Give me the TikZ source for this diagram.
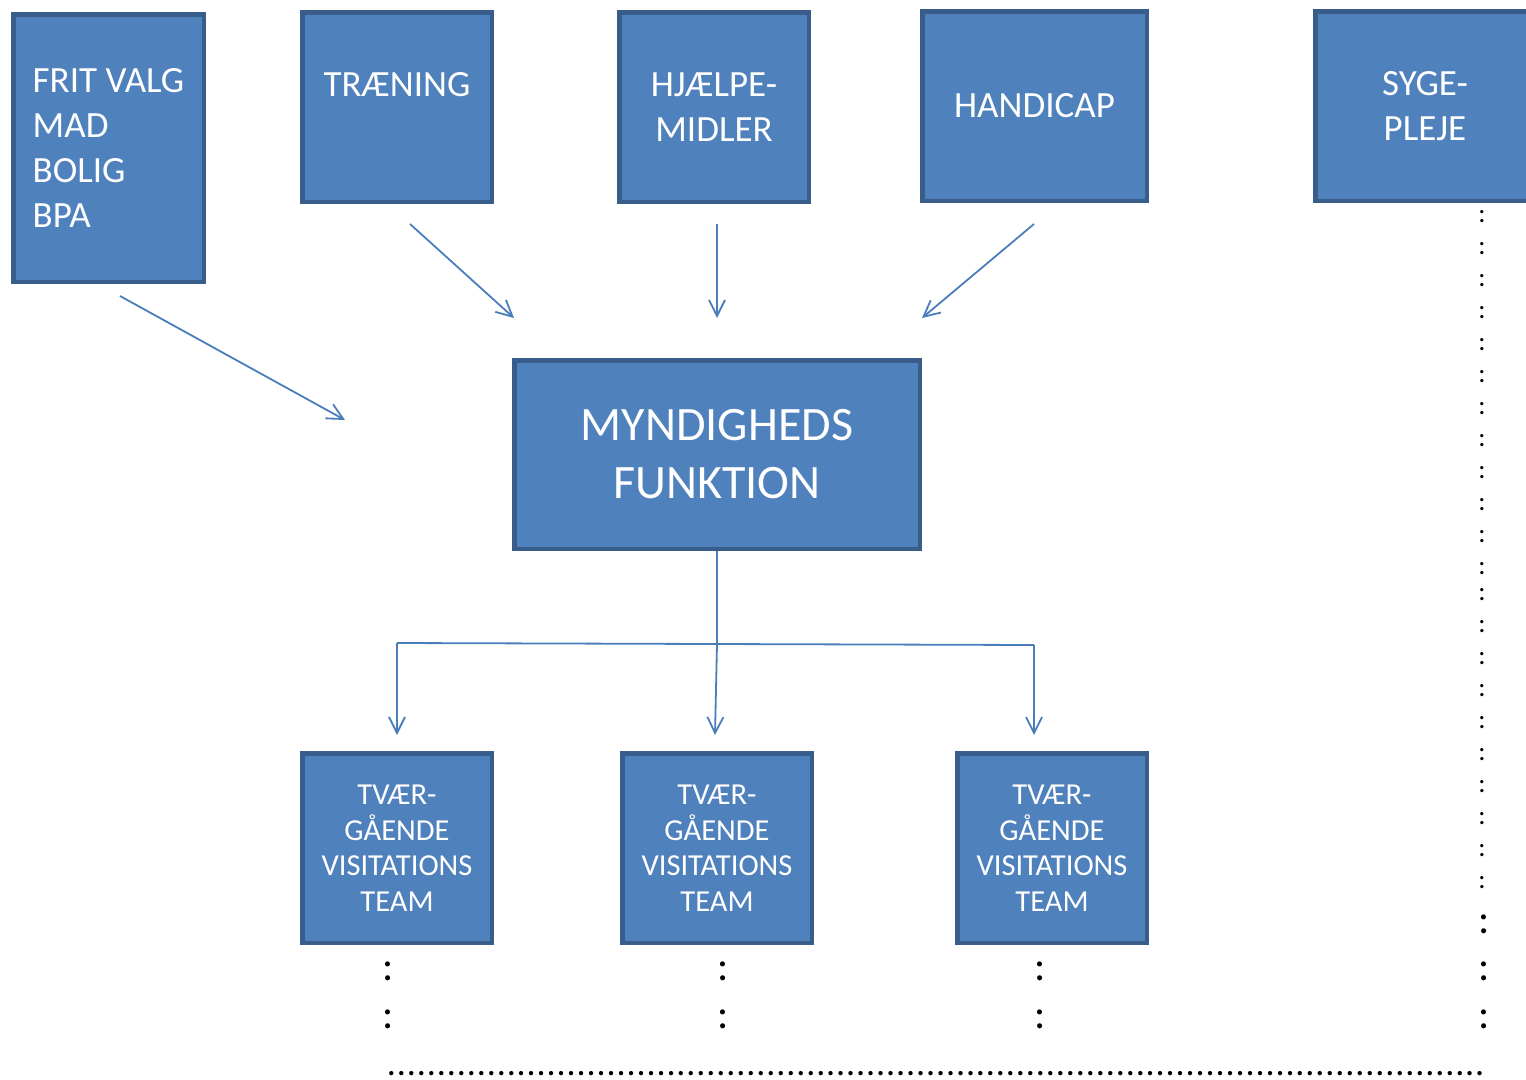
\documentclass[tikz,border=0pt]{standalone}
\usepackage{fontspec}
\setmainfont{Carlito}
\usepackage{xcolor}
\usetikzlibrary{arrows.meta, positioning}
\definecolor{boxfill}{HTML}{4F81BD}
\definecolor{boxline}{HTML}{385D8A}
\definecolor{flowline}{HTML}{4A7EBB}

\begin{document}
\begin{tikzpicture}[x=1pt, y=-1pt,
    box/.style={draw=boxline, fill=boxfill, line width=4.5pt, text=white, inner sep=0pt,
                align=center, font=\fontsize{37}{45}\selectfont},
    teambox/.style={box, minimum width=189.5pt, minimum height=189.5pt,
                font=\fontsize{30.5}{35.5}\selectfont},
    flow/.style={draw=flowline, line width=1.8pt},
    flowarrow/.style={flow, -{Straight Barb[length=16pt, width=16pt]}},
    bigcolon/.style={inner sep=0pt, font=\fontsize{42}{42}\selectfont},
    smallcolon/.style={inner sep=0pt, font=\fontsize{27}{27}\selectfont}]
        \useasboundingbox (0,0) rectangle (1526,1079);
        \clip (0,0) rectangle (1526,1079);

        % Top row
        \node[box, align=left, minimum width=190.5pt, minimum height=267.5pt] (fritvalg) at (108.5,148) {FRIT VALG\\MAD\\BOLIG\\BPA};
        \node[box, minimum width=189.5pt, minimum height=189.5pt] (traening) at (397,107) {TRÆNING\\\mbox{}};
        \node[box, minimum width=189.5pt, minimum height=189.5pt] (hjaelp) at (714,107) {HJÆLPE-\\MIDLER};
        \node[box, minimum width=224.5pt, minimum height=189.5pt] (handicap) at (1034.5,106) {HANDICAP};
        \node[box, minimum width=219.5pt, minimum height=189.5pt] (sygepleje) at (1425,106) {SYGE-\\PLEJE};

        % Authority
        \node[box, minimum width=405.5pt, minimum height=188.5pt, font=\fontsize{48}{58}\selectfont] (myndighed) at (717,454.5) {MYNDIGHEDS\\FUNKTION};

        % Teams
        \node[teambox] (team1) at (397,848) {TVÆR-\\GÅENDE\\VISITATIONS\\TEAM};
        \node[teambox] (team2) at (717,848) {TVÆR-\\GÅENDE\\VISITATIONS\\TEAM};
        \node[teambox] (team3) at (1052,848) {TVÆR-\\GÅENDE\\VISITATIONS\\TEAM};

        % Arrow ends
        \coordinate (fritout) at (120,296);
        \coordinate (fritin) at (345,420);
        \coordinate (traenout) at (410,224);
        \coordinate (traenin) at (514,318);
        \coordinate (hjaelpout) at (717,224);
        \coordinate (hjaelpin) at (717,318);
        \coordinate (handout) at (1034,224);
        \coordinate (handin) at (922,318);
        \coordinate (hub) at (717,644);
        \coordinate (splitl) at (397,643);
        \coordinate (splitr) at (1034,645);
        \coordinate (team1in) at (397,735);
        \coordinate (team2in) at (715,735);
        \coordinate (team3in) at (1034,735);

        % Arrows
        \draw[flowarrow] (fritout) -- (fritin);
        \draw[flowarrow] (traenout) -- (traenin);
        \draw[flowarrow] (hjaelpout) -- (hjaelpin);
        \draw[flowarrow] (handout) -- (handin);
        \draw[flow] (myndighed.south) -- (hub);
        \draw[flow] (splitl) -- (splitr);
        \draw[flowarrow] (splitl) -- (team1in);
        \draw[flowarrow] (hub) -- (team2in);
        \draw[flowarrow] (splitr) -- (team3in);

        % Continuation marks
        \foreach \cx [count=\i] in {388,723,1040} {
            \foreach \cy [count=\j] in {971.5,1019.5} {
                \node[bigcolon] (colon\i\j) at (\cx,\cy) {:};
            }
        }
        \foreach \cy [count=\k] in {217,249,...,569} {
            \node[smallcolon] (sidea\k) at (1482,\cy) {:};
        }
        \foreach \cy [count=\k] in {595,627,...,883} {
            \node[smallcolon] (sideb\k) at (1482,\cy) {:};
        }
        \foreach \cy [count=\k] in {924,971.5,1019.5} {
            \node[bigcolon] (sidec\k) at (1484,\cy) {:};
        }
        \node[inner sep=0pt, font=\fontsize{36}{36}\selectfont] (dotrow) at (936.5,1074)
            {\makebox[1100pt]{\xleaders\hbox to 10pt{\hss.\hss}\hfill}};
    \end{tikzpicture}
\end{document}
